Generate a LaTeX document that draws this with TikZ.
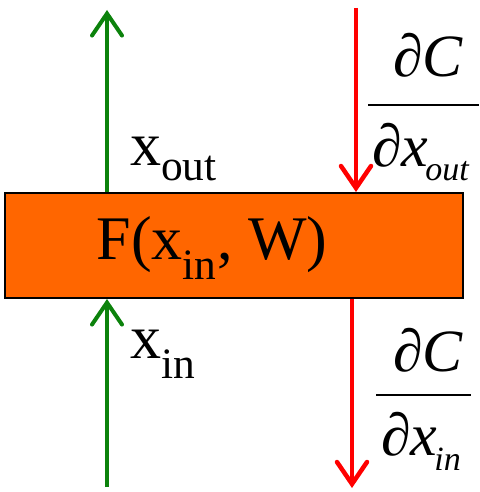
\documentclass[tikz,border=0pt]{standalone}
\usepackage{fontspec}
\setmainfont{Liberation Serif}
\usepackage{xcolor}
\usetikzlibrary{arrows.meta}
\definecolor{layerorange}{HTML}{FF6600}
\definecolor{fwdgreen}{HTML}{0C820C}
\newcommand{\gradsub}[2]{\kern-3pt\raisebox{-#1}{\fontsize{34}{38}\selectfont #2}}

\begin{document}
\begin{tikzpicture}[
    x=1pt, y=-1pt,
    fwd/.style={draw=fwdgreen, line width=4pt,
      -{Straight Barb[length=22pt,width=30pt,line cap=round]}},
    bwd/.style={draw=red, line width=4.5pt,
      -{Straight Barb[length=22pt,width=30pt,line cap=round]}},
    every node/.style={inner sep=0pt, font=\fontsize{62}{70}\selectfont},
    grad/.style={anchor=base west, font=\fontsize{60}{66}\selectfont\itshape},
    bar/.style={fill, minimum height=2pt}
  ]
    \useasboundingbox (0,0) rectangle (479,492);
    \node[draw, line width=2pt, fill=layerorange, minimum width=458pt,
      minimum height=105pt] (layer) at (234,245.5) {};
    \node (f) at (212,248) {F(x\textsubscript{in}, W)};
    \node[anchor=base west] (xout) at (130,165) {x\textsubscript{out}};
    \node[anchor=base west] (xin) at (130,358) {x\textsubscript{in}};
    % dC/dx_out
    \node[grad] (numout) at (393,77) {∂C};
    \node[bar, minimum width=111pt] (barout) at (423.5,105) {};
    \node[grad] (denout) at (372,166) {∂x\gradsub{14pt}{out}};
    % dC/dx_in
    \node[grad] (numin) at (393,371) {∂C};
    \node[bar, minimum width=95pt] (barin) at (423.5,395) {};
    \node[grad] (denin) at (381,455) {∂x\gradsub{15pt}{in}};
    % free ends of the arrows
    \coordinate (intail) at (107,487);
    \coordinate (outhead) at (107,10);
    \coordinate (gradtail) at (356,8);
    \coordinate (gradhead) at (352,488);
    \draw[fwd] (intail) -- (intail |- layer.south);
    \draw[fwd] (outhead |- layer.north) -- (outhead);
    \draw[bwd] (gradtail) -- (gradtail |- layer.north);
    \draw[bwd] (gradhead |- layer.south) -- (gradhead);
  \end{tikzpicture}
\end{document}
